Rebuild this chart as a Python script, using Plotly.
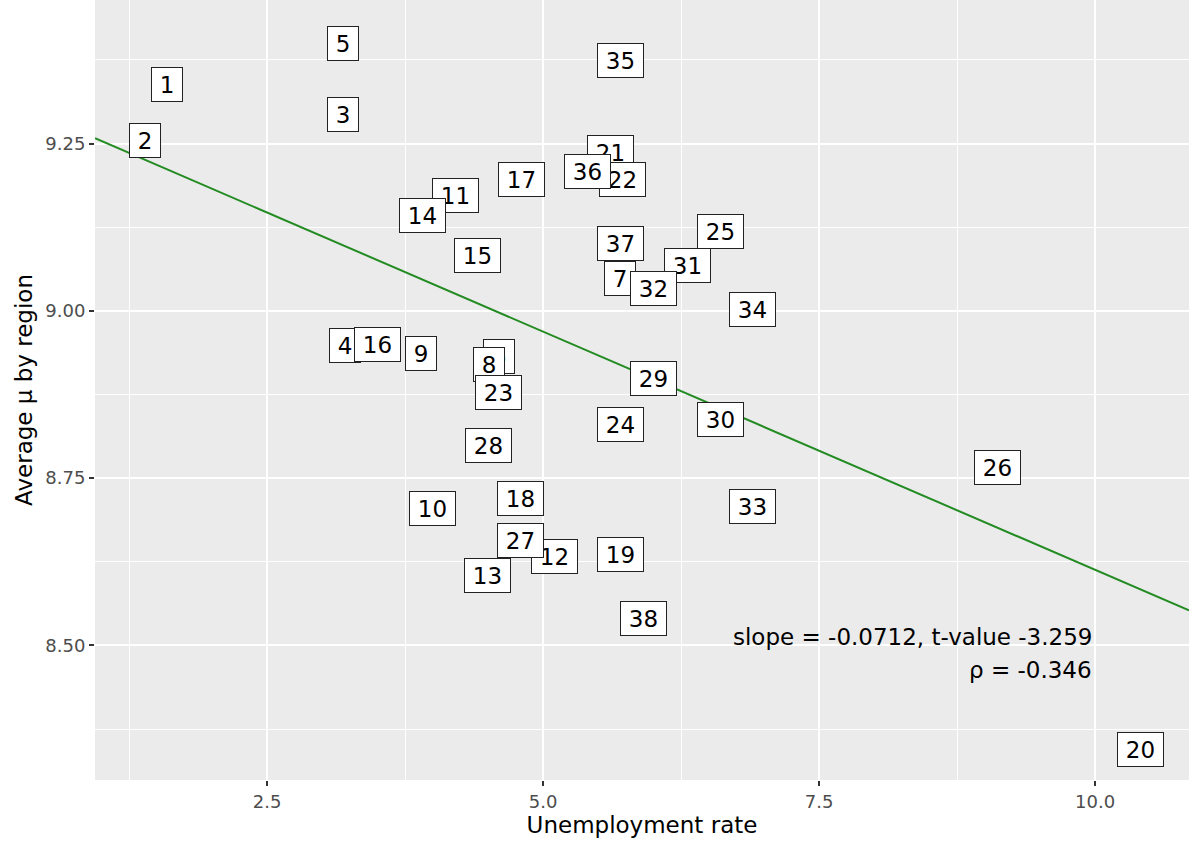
import plotly.graph_objects as go

regions = [str(i) for i in range(1, 39)]
unemployment = [1.594, 1.395, 3.188, 3.207, 3.188, 4.601, 5.697, 4.511, 3.895, 3.995,
                4.203, 5.100, 4.493, 3.904, 4.402, 3.496, 4.801, 4.792, 5.697, 10.408,
                5.607, 5.716, 4.592, 5.697, 6.603, 9.112, 4.792, 4.502, 5.996, 6.603,
                6.304, 5.996, 6.893, 6.893, 5.697, 5.399, 5.697, 5.906]
avg_mu = [9.3385, 9.2545, 9.2935, 8.9485, 9.400, 8.932, 9.049, 8.920, 8.9365, 8.704,
          9.172, 8.6335, 8.605, 9.142, 9.082, 8.950, 9.196, 8.719, 8.6365, 8.344,
          9.2365, 9.196, 8.878, 8.830, 9.118, 8.7655, 8.6575, 8.7985, 8.899, 8.8375,
          9.0685, 9.034, 8.707, 9.0025, 9.3745, 9.208, 9.100, 8.5405]

slope = -0.0712
intercept = 9.325
x_range = [0.942, 10.85]
y_range = [8.299, 9.4645]

FONT = "DejaVu Sans"

fig = go.Figure()
fig.add_trace(go.Scatter(
    x=x_range, y=[intercept + slope * v for v in x_range],
    mode="lines", line=dict(color="#228B22", width=2), hoverinfo="skip", showlegend=False))

annotations = []
for lab, xv, yv in zip(regions, unemployment, avg_mu):
    annotations.append(dict(
        x=xv, y=yv, text=lab, showarrow=False, xref="x", yref="y",
        width=22 if len(lab) == 1 else 37, height=25,
        font=dict(family=FONT, size=23, color="black"),
        bgcolor="white", bordercolor="#222222", borderwidth=1, borderpad=4))

annotations.append(dict(
    x=9.99, y=8.512, xanchor="right", yanchor="middle", showarrow=False,
    text="slope = -0.0712, t-value -3.259", xref="x", yref="y",
    font=dict(family=FONT, size=23, color="black")))
annotations.append(dict(
    x=9.99, y=8.464, xanchor="right", yanchor="middle", showarrow=False,
    text="ρ = -0.346", xref="x", yref="y",
    font=dict(family=FONT, size=23, color="black")))

fig.update_layout(
    width=1189, height=847,
    margin=dict(l=95, r=0, t=0, b=67),
    paper_bgcolor="white", plot_bgcolor="#EBEBEB",
    font=dict(family=FONT, color="black"),
    annotations=annotations,
    showlegend=False,
    xaxis=dict(
        range=x_range, tickvals=[2.5, 5.0, 7.5, 10.0],
        ticktext=["2.5", "5.0", "7.5", "10.0"],
        showgrid=True, gridcolor="white", gridwidth=2,
        minor=dict(tickvals=[1.25, 3.75, 6.25, 8.75], showgrid=True,
                   gridcolor="white", gridwidth=1),
        ticks="outside", ticklen=5, tickcolor="#333333", tickwidth=1.5,
        tickfont=dict(size=18, color="#4D4D4D"),
        zeroline=False, showline=False, automargin=False,
        title=dict(text="Unemployment rate", font=dict(size=23, color="black"), standoff=4),
    ),
    yaxis=dict(
        range=y_range, tickvals=[8.5, 8.75, 9.0, 9.25],
        ticktext=["8.50", "8.75", "9.00", "9.25"],
        showgrid=True, gridcolor="white", gridwidth=2,
        minor=dict(tickvals=[8.375, 8.625, 8.875, 9.125, 9.375], showgrid=True,
                   gridcolor="white", gridwidth=1),
        ticks="outside", ticklen=5, tickcolor="#333333", tickwidth=1.5,
        tickfont=dict(size=18, color="#4D4D4D"),
        zeroline=False, showline=False, automargin=False,
        title=dict(text="Average μ by region", font=dict(size=23, color="black"), standoff=6),
    ),
)

fig.write_html("out.html", config={"displayModeBar": False},
               post_script="document.body.style.margin='0px';")
